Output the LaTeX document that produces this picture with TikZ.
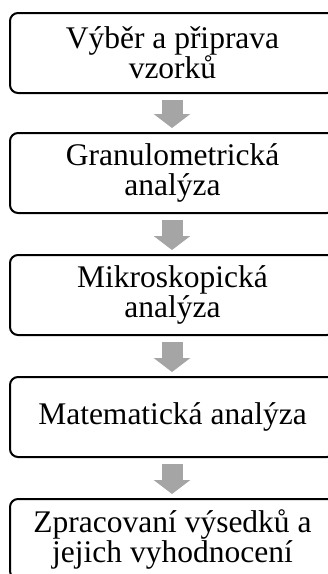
\documentclass[tikz,border=0pt]{standalone}
\usepackage{fontspec}
\setmainfont{Liberation Serif}
\usetikzlibrary{arrows.meta}
\definecolor{arrowgray}{HTML}{A5A5A5}
\tikzset{
  stepbox/.style={draw=black, line width=2pt, rounded corners=8pt,
    minimum width=325pt, minimum height=80pt, inner sep=0pt,
    align=center, font=\fontsize{31.5}{30}\selectfont},
  bigarrow/.style={draw=arrowgray, line width=21pt,
    -{Triangle[width=36pt,length=14pt]}, shorten <=6pt, shorten >=4pt}
}
\begin{document}
\begin{tikzpicture}[x=1pt,y=-1pt]
\useasboundingbox (0,0) rectangle (328,574);
\node[stepbox] (s1) at (172.5,53) {Výběr a připrava\\vzorků};
\node[stepbox] (s2) at (172.5,173) {Granulometrická\\analýza};
\node[stepbox] (s3) at (172.5,295) {Mikroskopická\\analýza};
\node[stepbox] (s4) at (172.5,417) {Matematická analýza};
\node[stepbox] (s5) at (172.5,539) {Zpracovaní výsedků a\\jejich vyhodnocení};
\draw[bigarrow] (s1.south -| 172,0) -- (s2.north -| 172,0);
\draw[bigarrow] (s2.south -| 172,0) -- (s3.north -| 172,0);
\draw[bigarrow] (s3.south -| 172,0) -- (s4.north -| 172,0);
\draw[bigarrow] (s4.south -| 172,0) -- (s5.north -| 172,0);
\end{tikzpicture}
\end{document}
